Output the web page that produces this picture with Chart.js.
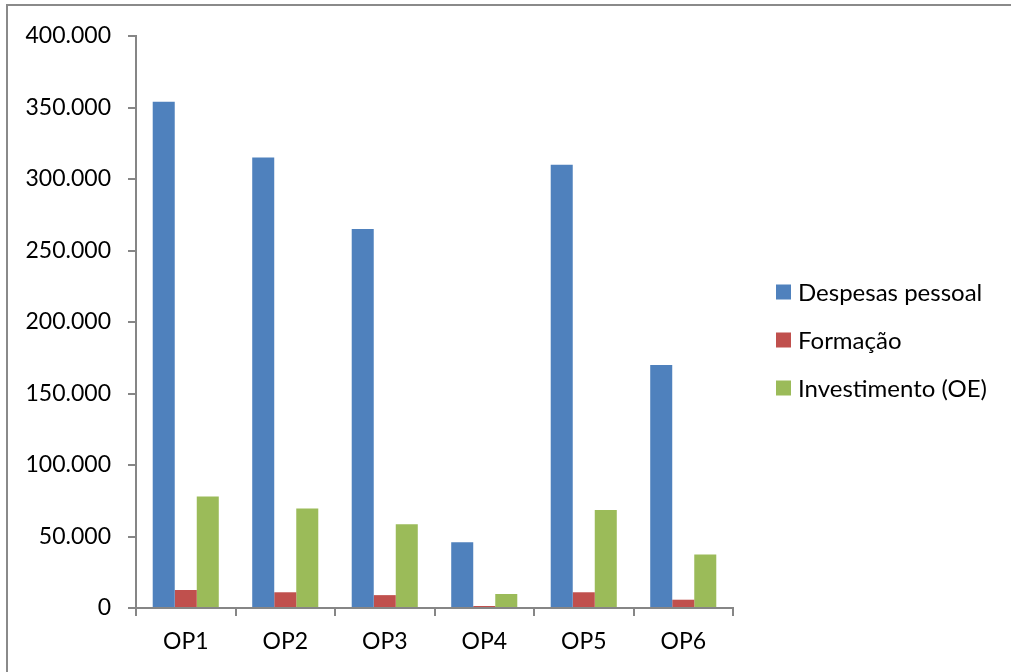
<!DOCTYPE html>
<html>
<head>
<meta charset="utf-8">
<script src="https://cdn.jsdelivr.net/npm/chart.js@4/dist/chart.umd.min.js"></script>
<style>
  html, body { margin: 0; padding: 0; background: #fff; }
  #wrap { position: relative; width: 1011px; height: 672px; }
</style>
</head>
<body>
<div id="wrap"><canvas id="c" width="1011" height="672"></canvas></div>
<script>
const categories = ['OP1', 'OP2', 'OP3', 'OP4', 'OP5', 'OP6'];
const seriesNames = ['Despesas pessoal', 'Formação', 'Investimento (OE)'];
const despesasPessoal = [354000, 315000, 265000, 46000, 310000, 170000];
const formacao = [12600, 11000, 9000, 1400, 11000, 5800];
const investimentoOE = [78000, 69500, 58500, 9800, 68500, 37500];
const seriesColors = ['#4F81BD', '#C0504D', '#9BBB59'];
const yMin = 0, yMax = 400000, yStep = 50000;

const FONT = 'Lato, "Open Sans", sans-serif';
const FSIZE = 23;
const LSIZE = 24;
const AXIS = '#868686';

function fmt(v) {
  return String(v).replace(/\B(?=(\d{3})+(?!\d))/g, '.');
}

const frame = {
  id: 'frame',
  beforeDraw(chart) {
    const ctx = chart.ctx;
    ctx.save();
    ctx.fillStyle = '#fff';
    ctx.fillRect(0, 0, chart.width, chart.height);
    ctx.strokeStyle = '#8a8a8a';
    ctx.lineWidth = 2;
    ctx.strokeRect(7, 5, 1100, 800);
    ctx.restore();
  }
};

const legendRight = {
  id: 'legendRight',
  afterDraw(chart) {
    const ctx = chart.ctx;
    ctx.save();
    ctx.font = LSIZE + 'px ' + FONT;
    ctx.textBaseline = 'middle';
    ctx.textAlign = 'left';
    chart.data.datasets.forEach((ds, i) => {
      const cy = 292 + i * 48;
      ctx.fillStyle = ds.backgroundColor;
      ctx.fillRect(776, cy - 7.5, 15, 15);
      ctx.fillStyle = '#000';
      ctx.fillText(ds.label, 798, cy + 1);
    });
    ctx.restore();
  }
};

new Chart(document.getElementById('c'), {
  type: 'bar',
  data: {
    labels: categories,
    datasets: [
      { label: seriesNames[0], data: despesasPessoal, backgroundColor: seriesColors[0] },
      { label: seriesNames[1], data: formacao, backgroundColor: seriesColors[1] },
      { label: seriesNames[2], data: investimentoOE, backgroundColor: seriesColors[2] }
    ]
  },
  options: {
    responsive: false,
    animation: false,
    devicePixelRatio: 1,
    layout: { padding: { top: 36, left: 0, right: 278, bottom: 0 } },
    datasets: { bar: { categoryPercentage: 0.664, barPercentage: 1.0 } },
    plugins: { legend: { display: false }, tooltip: { enabled: false } },
    scales: {
      x: {
        grid: { display: true, drawOnChartArea: false, drawTicks: true, tickLength: 8, color: AXIS, lineWidth: 2, offset: true },
        border: { display: true, color: AXIS, width: 2 },
        ticks: { color: '#000', font: { family: FONT, size: FSIZE }, padding: 12, maxRotation: 0 },
        afterFit(scale) { scale.height = 64; }
      },
      y: {
        min: yMin, max: yMax,
        grid: { display: true, drawOnChartArea: false, drawTicks: true, tickLength: 8, color: AXIS, lineWidth: 2 },
        border: { display: true, color: AXIS, width: 2 },
        ticks: { stepSize: yStep, color: '#000', font: { family: FONT, size: FSIZE }, padding: 17, callback: v => fmt(v) },
        afterFit(scale) { scale.width = 136; }
      }
    }
  },
  plugins: [frame, legendRight]
});
</script>
</body>
</html>
